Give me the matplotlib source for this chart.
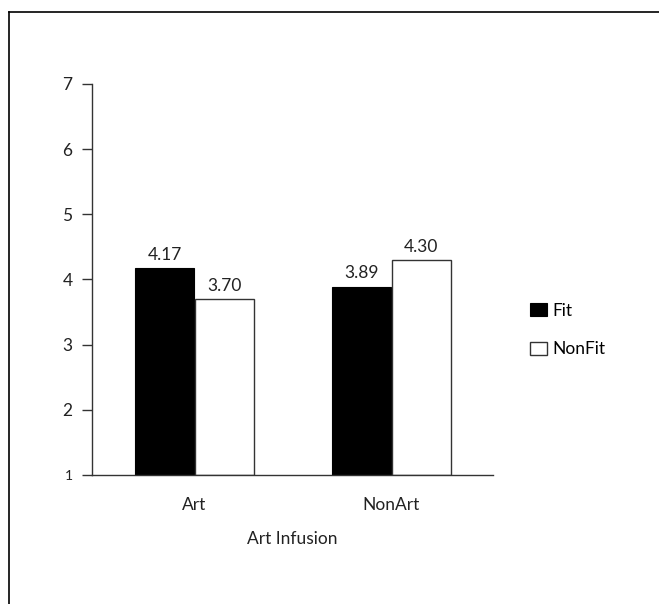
import numpy as np
import matplotlib
matplotlib.use("Agg")
import matplotlib.pyplot as plt
from matplotlib.lines import Line2D

plt.rcParams['font.family'] = ['Lato', 'DejaVu Sans']

groups = ["Art", "NonArt"]
fit = [4.17, 3.89]
nonfit = [3.70, 4.30]
yticks = [1, 2, 3, 4, 5, 6, 7]

fig = plt.figure(figsize=(6.59, 6.04), dpi=100)
ax = fig.add_axes([0.1396, 0.2136, 0.6085, 0.6474])

x = np.arange(len(groups))
w = 0.30
b1 = ax.bar(x - w / 2, np.array(fit) - 1, w, bottom=1, color="black",
            edgecolor="black", linewidth=0.8, label="Fit")
b2 = ax.bar(x + w / 2 + 0.005, np.array(nonfit) - 1, w, bottom=1, color="white",
            edgecolor="#333333", linewidth=1.0, label="NonFit")

for bars, vals in ((b1, fit), (b2, nonfit)):
    for r, v in zip(bars, vals):
        ax.text(r.get_x() + r.get_width() / 2, v + 0.08, "%.2f" % v,
                ha="center", va="bottom", fontsize=12.5, color="#222222")

ax.set_xlim(-0.52, 1.52)
ax.set_ylim(1, 7)
ax.set_yticks(yticks)
ax.set_xticks(x)
ax.set_xticklabels(groups)
ax.tick_params(axis="x", length=0, pad=16, labelsize=12.5, labelcolor="#222222")
ax.tick_params(axis="y", length=7, width=1, color="#333333", pad=7,
               labelsize=12.5, labelcolor="#222222")
ax.get_yticklabels()[0].set_fontsize(10)
ax.set_xlabel("Art Infusion", fontsize=12.5, color="#222222", labelpad=13)

for s in ("top", "right"):
    ax.spines[s].set_visible(False)
for s in ("left", "bottom"):
    ax.spines[s].set_color("#333333")
    ax.spines[s].set_linewidth(1.0)

ax.legend(loc="center left", bbox_to_anchor=(0.793, 0.4536), bbox_transform=fig.transFigure,
          frameon=False, fontsize=12.5, handlelength=1.0, handleheight=0.75,
          handletextpad=0.3, labelspacing=1.3, borderaxespad=0)

# outer frame lines (top and left)
fig.add_artist(Line2D([9 / 659, 1], [1 - 12 / 604, 1 - 12 / 604], color="black", lw=1.2))
fig.add_artist(Line2D([9 / 659, 9 / 659], [0, 1 - 12 / 604], color="black", lw=1.2))

fig.savefig("out.png", dpi=100)
